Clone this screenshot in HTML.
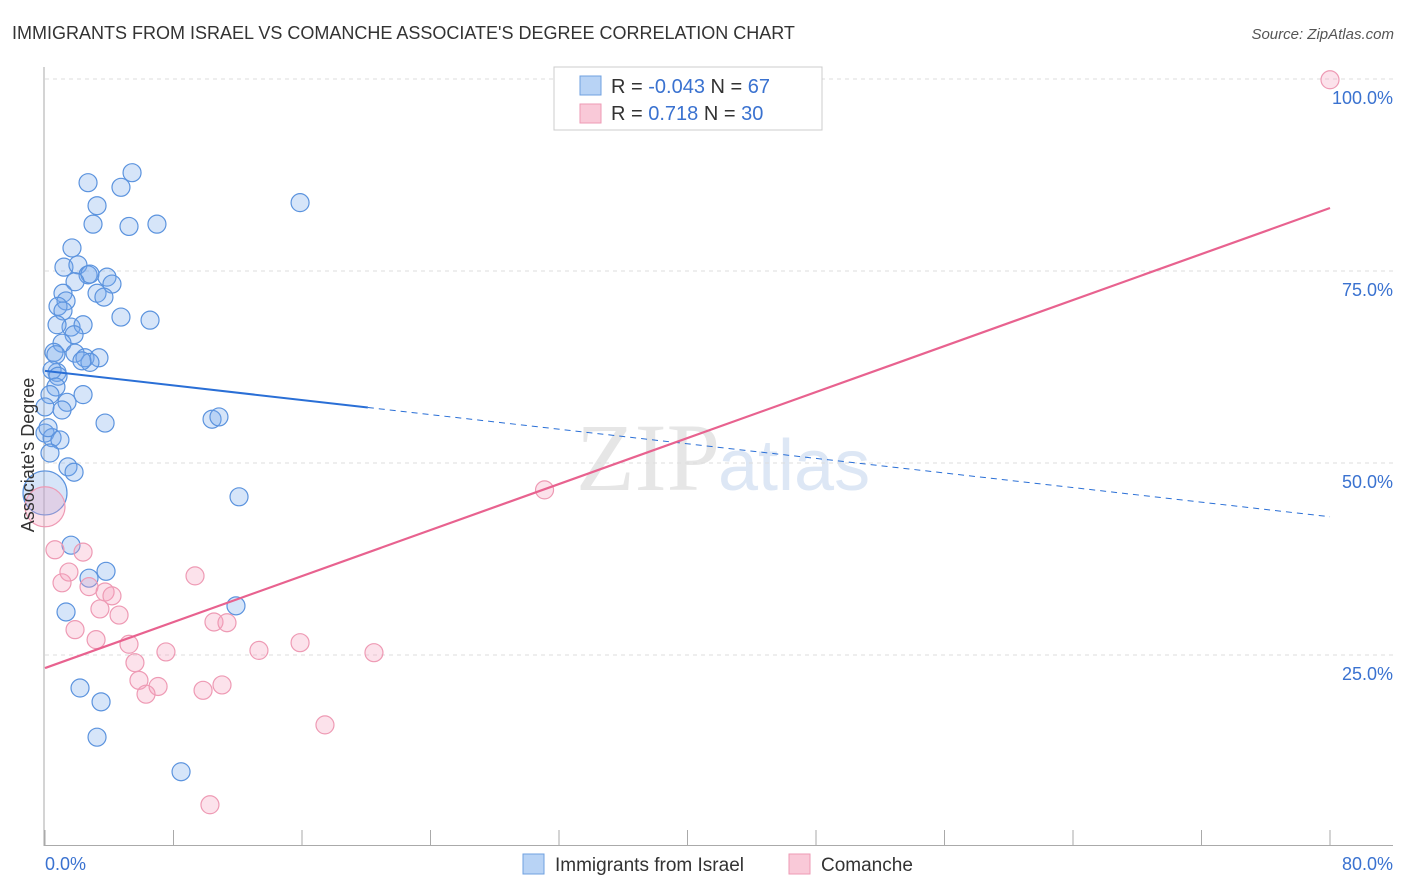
<!DOCTYPE html>
<html><head><meta charset="utf-8"><style>
body{margin:0;background:#fff;font-family:"Liberation Sans",sans-serif}
svg{display:block}
</style></head><body>
<svg id="chart" width="1406" height="892" xmlns="http://www.w3.org/2000/svg">
<text x="12" y="39" font-size="18" fill="#333">IMMIGRANTS FROM ISRAEL VS COMANCHE ASSOCIATE'S DEGREE CORRELATION CHART</text>
<text x="1394" y="39" font-size="15" fill="#555" font-style="italic" text-anchor="end">Source: ZipAtlas.com</text>
<text x="720" y="490" font-size="96" fill="#e6e6e6" text-anchor="end" font-family="Liberation Serif,serif">ZIP</text>
<text x="718" y="490" font-size="72" fill="#dde7f5">atlas</text>
<g id="grid"></g>
<g id="axes"></g>
<g id="marks"></g>
<text transform="translate(34,455) rotate(-90)" font-size="18" fill="#333" text-anchor="middle">Associate's Degree</text>
<g>
<rect x="554" y="67" width="268" height="63" fill="#fff" stroke="#ccc"/>
<rect x="580" y="76" width="21" height="19" fill="#b8d3f5" stroke="#6fa0e0"/>
<rect x="580" y="104" width="21" height="19" fill="#f9c9d8" stroke="#ee9ab4"/>
<text x="611" y="93" font-size="20" fill="#333">R = <tspan fill="#3a72d0">-0.043</tspan>   N = <tspan fill="#3a72d0">67</tspan></text>
<text x="611" y="120" font-size="20" fill="#333">R =   <tspan fill="#3a72d0"> 0.718</tspan>   N = <tspan fill="#3a72d0">30</tspan></text>
</g>
<g>
<rect x="523" y="854" width="21" height="20" fill="#b8d3f5" stroke="#6fa0e0"/>
<text x="555" y="871" font-size="19" fill="#333">Immigrants from Israel</text>
<rect x="789" y="854" width="21" height="20" fill="#f9c9d8" stroke="#ee9ab4"/>
<text x="821" y="871" font-size="19" fill="#333">Comanche</text>
</g>
</svg>
<script>
const blueX=[2.68,4.73,5.42,3.24,2.99,5.23,6.97,15.88,1.68,1.18,2.05,2.68,2.80,1.87,3.86,4.17,1.12,3.24,3.67,1.31,0.81,1.12,4.73,6.54,1.62,2.37,0.75,1.81,1.06,0.56,0.68,1.87,2.49,3.36,2.80,2.30,0.75,0.44,0.81,0.68,0.31,1.37,2.37,0,1.06,3.74,10.4,10.83,0,0.44,0.93,0.31,1.43,1.81,0,12.08,1.62,2.74,3.80,1.31,11.89,2.18,3.49,3.24,8.47,0.19];
const blueY=[86.5,85.9,87.8,83.5,81.1,80.8,81.1,83.9,78.0,75.5,75.8,74.5,74.6,73.6,74.2,73.3,72.1,72.1,71.6,71.1,70.4,69.8,69.0,68.6,67.7,68.0,68.0,66.7,65.6,64.4,64.1,64.3,63.7,63.7,63.1,63.3,61.8,62.1,61.3,59.9,58.9,57.9,58.9,57.3,56.9,55.2,55.7,56.0,53.9,53.3,53.0,51.3,49.5,48.8,46.1,45.6,39.3,35.0,35.9,30.6,31.4,20.7,18.9,14.3,9.8,54.6];
const pinkX=[80,31.1,0,0.62,2.37,1.06,1.49,2.74,3.74,4.17,3.42,4.61,9.34,1.87,3.18,5.23,10.52,11.33,13.32,15.88,20.48,7.53,5.60,5.85,7.04,6.29,9.84,11.02,17.43,10.27];
const pinkY=[99.9,46.5,44.3,38.7,38.4,34.4,35.8,33.9,33.2,32.7,31.0,30.2,35.3,28.3,27.0,26.4,29.3,29.2,25.6,26.6,25.3,25.4,24.0,21.7,20.9,19.9,20.4,21.1,15.9,5.5];
const yTicks=[25,50,75,100];
const yTickLabels=["25.0%","50.0%","75.0%","100.0%"];
const xTickLabels=["0.0%","80.0%"];
const blueTrend=[62.0,43.0];
const blueSolidEnd=20.1;
const pinkTrend=[23.3,83.2];
const X=v=>45+v/80*1285, Y=v=>847-v/100*768;
const NS="http://www.w3.org/2000/svg";
function mk(tag,attrs,parent){const e=document.createElementNS(NS,tag);for(const k in attrs)e.setAttribute(k,attrs[k]);parent.appendChild(e);return e;}
const grid=document.getElementById('grid'),axes=document.getElementById('axes'),marks=document.getElementById('marks');
yTicks.forEach((t,i)=>{
 const l=mk('line',{x1:45,x2:1393,y1:Y(t),y2:Y(t),stroke:'#ddd','stroke-dasharray':'4,4'},grid);
 
 
 const tx=mk('text',{x:1393,y:Y(t)+25,'font-size':18,fill:'#3a72d0','text-anchor':'end'},axes);
 tx.textContent=yTickLabels[i];
 
 
});
let a=mk('line',{x1:44,x2:44,y1:67,y2:846,stroke:'#aaa'},axes);


a=mk('line',{x1:44,x2:1393,y1:845.5,y2:845.5,stroke:'#aaa'},axes);


for(let i=0;i<=10;i++){
 const t=mk('line',{x1:X(i*8),x2:X(i*8),y1:830,y2:845,stroke:'#aaa'},axes);
 
 
}
[[0,45,'start'],[80,1393,'end']].forEach((d,i)=>{
 const tx=mk('text',{x:d[1],y:870,'font-size':18,fill:'#3a72d0','text-anchor':d[2]},axes);
 tx.textContent=xTickLabels[i];
 
 
});
blueX.forEach((x,i)=>{
 const big=(x===0&&blueY[i]<47);
 const c=mk('circle',{cx:X(x),cy:Y(blueY[i]),r:big?22:9,fill:'rgba(120,170,235,0.3)',stroke:'#5b93de','stroke-width':1.2},marks);
 
 
});
pinkX.forEach((x,i)=>{
 const big=(x===0);
 const c=mk('circle',{cx:X(x),cy:Y(pinkY[i]),r:big?20:9,fill:'rgba(245,160,190,0.3)',stroke:'#ee9ab4','stroke-width':1.2},marks);
 
 
});
const by=x=>blueTrend[0]+(blueTrend[1]-blueTrend[0])*x/80;
let t=mk('line',{x1:X(0),y1:Y(by(0)),x2:X(blueSolidEnd),y2:Y(by(blueSolidEnd)),stroke:'#2a6fd6','stroke-width':2},marks);


t=mk('line',{x1:X(blueSolidEnd),y1:Y(by(blueSolidEnd)),x2:X(80),y2:Y(by(80)),stroke:'#2a6fd6','stroke-width':1,'stroke-dasharray':'6,5'},marks);


t=mk('line',{x1:X(0),y1:Y(pinkTrend[0]),x2:X(80),y2:Y(pinkTrend[1]),stroke:'#e8628f','stroke-width':2.2},marks);


</script>
</body></html>
